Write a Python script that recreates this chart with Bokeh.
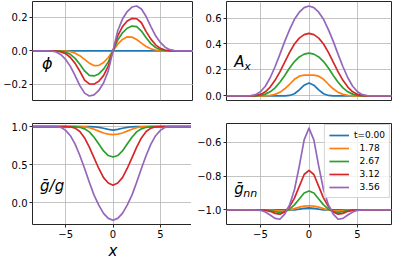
from bokeh.plotting import figure
from bokeh.layouts import gridplot
from bokeh.models import Range1d, FixedTicker, CustomJSTickFormatter, Label
from bokeh.embed import file_html
from bokeh.resources import INLINE

# ---------------- data ----------------
X = [-8.5, -7.0, -6.5, -6.0, -5.5, -5.0, -4.5, -4.0, -3.5, -3.0, -2.5, -2.0, -1.5, -1.0, -0.5,
     0.0, 0.5, 1.0, 1.5, 2.0, 2.5, 3.0, 3.5, 4.0, 4.5, 5.0, 5.5, 6.0, 6.5, 7.0, 8.5]

T_LABELS = ["t=0.00", "\u00a0\u00a01.78", "\u00a0\u00a02.67", "\u00a0\u00a03.12", "\u00a0\u00a03.56"]
COLORS = ["#1f77b4", "#ff7f0e", "#2ca02c", "#d62728", "#9467bd"]

PHI_BLUE = [0, 0, 0, 0, 0, 0, 0, 0, 0, 0, 0, 0, 0, 0, 0, 0, 0, 0, 0, 0, 0, 0, 0, 0, 0, 0, 0, 0, 0, 0, 0]
PHI_ORANGE = [0, 0, 0, 0, 0, -0.001, -0.005, -0.014, -0.029, -0.051, -0.074, -0.088, -0.087, -0.07, -0.04,
              0, 0.04, 0.068, 0.084, 0.082, 0.068, 0.046, 0.026, 0.012, 0.005, 0.001, 0, 0, 0, 0, 0]
PHI_GREEN = [0, 0, 0, 0, -0.002, -0.008, -0.021, -0.045, -0.08, -0.12, -0.147, -0.15, -0.138, -0.11, -0.066,
             0, 0.065, 0.108, 0.135, 0.148, 0.145, 0.118, 0.078, 0.043, 0.02, 0.007, 0.002, 0, 0, 0, 0]
PHI_RED = [0, 0, 0, -0.001, -0.006, -0.017, -0.04, -0.075, -0.122, -0.175, -0.198, -0.199, -0.182, -0.148, -0.092,
           0, 0.09, 0.145, 0.178, 0.194, 0.192, 0.168, 0.115, 0.07, 0.036, 0.015, 0.005, 0.001, 0, 0, 0]
PHI_PURPLE = [0, 0, -0.001, -0.007, -0.023, -0.052, -0.093, -0.148, -0.208, -0.253, -0.27, -0.263, -0.237, -0.192, -0.12,
              0, 0.12, 0.19, 0.235, 0.262, 0.268, 0.25, 0.205, 0.145, 0.09, 0.05, 0.022, 0.007, 0.001, 0, 0]

AX_BLUE = [0, 0, 0, 0, 0, 0, 0, 0, 0, 0, 0.001, 0.004, 0.017, 0.047, 0.083,
           0.1, 0.083, 0.047, 0.017, 0.004, 0.001, 0, 0, 0, 0, 0, 0, 0, 0, 0, 0]
AX_ORANGE = [0, 0, 0, 0, 0, 0, 0.001, 0.004, 0.012, 0.028, 0.055, 0.09, 0.128, 0.152, 0.16,
             0.16, 0.16, 0.152, 0.128, 0.09, 0.055, 0.028, 0.012, 0.004, 0.001, 0, 0, 0, 0, 0, 0]
AX_GREEN = [0, 0, 0, 0, 0.001, 0.005, 0.014, 0.032, 0.062, 0.105, 0.158, 0.215, 0.265, 0.3, 0.322,
            0.329, 0.322, 0.3, 0.265, 0.215, 0.158, 0.105, 0.062, 0.032, 0.014, 0.005, 0.001, 0, 0, 0, 0]
AX_RED = [0, 0, 0, 0, 0.003, 0.012, 0.032, 0.068, 0.12, 0.185, 0.26, 0.335, 0.4, 0.445, 0.472,
          0.482, 0.472, 0.445, 0.4, 0.335, 0.26, 0.185, 0.12, 0.068, 0.032, 0.012, 0.003, 0, 0, 0, 0]
AX_PURPLE = [0, 0, 0, 0.002, 0.01, 0.032, 0.075, 0.14, 0.225, 0.32, 0.42, 0.51, 0.59, 0.645, 0.68,
             0.692, 0.68, 0.645, 0.59, 0.51, 0.42, 0.32, 0.225, 0.14, 0.075, 0.032, 0.01, 0.002, 0, 0, 0]

GG_BLUE = [1, 1, 1, 1, 1, 1, 1, 1, 1, 1, 0.999, 0.997, 0.99, 0.978, 0.962,
           0.952, 0.962, 0.978, 0.99, 0.997, 0.999, 1, 1, 1, 1, 1, 1, 1, 1, 1, 1]
GG_ORANGE = [1, 1, 1, 1, 1, 1, 1, 1, 0.999, 0.995, 0.985, 0.965, 0.94, 0.915, 0.9,
             0.895, 0.9, 0.915, 0.94, 0.965, 0.985, 0.995, 0.999, 1, 1, 1, 1, 1, 1, 1, 1]
GG_GREEN = [1, 1, 1, 1, 1, 1, 1, 0.998, 0.99, 0.97, 0.93, 0.86, 0.77, 0.68, 0.62,
            0.6, 0.62, 0.68, 0.77, 0.86, 0.93, 0.97, 0.99, 0.998, 1, 1, 1, 1, 1, 1, 1]
GG_RED = [1, 1, 1, 1, 1, 1, 0.997, 0.98, 0.935, 0.85, 0.73, 0.59, 0.45, 0.33, 0.26,
          0.23, 0.26, 0.33, 0.45, 0.59, 0.73, 0.85, 0.935, 0.98, 0.997, 1, 1, 1, 1, 1, 1]
GG_PURPLE = [1, 1, 1, 1, 0.99, 0.95, 0.88, 0.77, 0.62, 0.45, 0.27, 0.1, -0.03, -0.14, -0.205,
             -0.23, -0.205, -0.14, -0.03, 0.1, 0.27, 0.45, 0.62, 0.77, 0.88, 0.95, 0.99, 1, 1, 1, 1]

GNN_BLUE = [-1, -1, -1, -1, -1, -1, -1, -1, -1, -1, -1, -1, -0.999, -0.995, -0.99,
            -0.988, -0.99, -0.995, -0.999, -1, -1, -1, -1, -1, -1, -1, -1, -1, -1, -1, -1]
GNN_ORANGE = [-1, -1, -1, -1, -1, -1, -1, -1.001, -1.004, -1.007, -1.006, -1.0, -0.992, -0.983, -0.977,
              -0.975, -0.977, -0.983, -0.992, -1.0, -1.006, -1.007, -1.004, -1.001, -1, -1, -1, -1, -1, -1, -1]
GNN_GREEN = [-1, -1, -1, -1, -1, -1, -1, -1.004, -1.01, -1.015, -1.01, -0.995, -0.97, -0.935, -0.9,
             -0.888, -0.9, -0.935, -0.97, -0.995, -1.01, -1.015, -1.01, -1.004, -1, -1, -1, -1, -1, -1, -1]
GNN_RED = [-1, -1, -1, -1, -1, -1, -1.002, -1.008, -1.02, -1.025, -1.012, -0.98, -0.93, -0.86, -0.79,
           -0.766, -0.79, -0.86, -0.93, -0.98, -1.012, -1.025, -1.02, -1.008, -1.002, -1, -1, -1, -1, -1, -1]
GNN_PURPLE = [-1, -1, -1, -1, -1, -1.002, -1.012, -1.03, -1.05, -1.055, -1.025, -0.97, -0.88, -0.74, -0.585,
              -0.515, -0.585, -0.74, -0.88, -0.97, -1.025, -1.055, -1.05, -1.03, -1.012, -1.002, -1, -1, -1, -1, -1]

PHI = [PHI_BLUE, PHI_ORANGE, PHI_GREEN, PHI_RED, PHI_PURPLE]
AX = [AX_BLUE, AX_ORANGE, AX_GREEN, AX_RED, AX_PURPLE]
GG = [GG_BLUE, GG_ORANGE, GG_GREEN, GG_RED, GG_PURPLE]
GNN = [GNN_BLUE, GNN_ORANGE, GNN_GREEN, GNN_RED, GNN_PURPLE]

X_TICKS = [-5, 0, 5]
PHI_TICKS = [-0.2, 0.0, 0.2]
AX_TICKS = [0.0, 0.2, 0.4, 0.6]
GG_TICKS = [0.0, 0.5, 1.0]
GNN_TICKS = [-1.0, -0.8, -0.6]

# ---------------- styling ----------------
FONT = "DejaVu Sans"
X_RANGE = (-8.5, 8.5)


def fmt(decimals):
    return CustomJSTickFormatter(
        code="return tick.toFixed(%d).replace('-', '\u2212');" % decimals)


def panel(series, ylim, yticks, fw, fh, bl, br, bt, bb, show_x, legend=False):
    p = figure(frame_width=fw, frame_height=fh,
               x_range=Range1d(*X_RANGE), y_range=Range1d(*ylim),
               output_backend="svg", toolbar_location=None,
               min_border_left=bl, min_border_right=br,
               min_border_top=bt, min_border_bottom=bb,
               background_fill_color="white", border_fill_color="white")
    p.outline_line_color = "#262626"
    p.outline_line_width = 1

    for ax in (p.xaxis, p.yaxis):
        ax.axis_line_color = None
        ax.major_tick_line_color = "#262626"
        ax.major_tick_out = 3
        ax.major_tick_in = 0
        ax.minor_tick_line_color = None
        ax.major_label_text_font = FONT
        ax.major_label_text_font_size = "10px"
        ax.major_label_text_color = "black"
        ax.major_label_standoff = 2

    p.yaxis.ticker = FixedTicker(ticks=yticks)
    p.yaxis.formatter = fmt(1)
    p.xaxis.ticker = FixedTicker(ticks=X_TICKS)
    p.xaxis.formatter = fmt(0)
    p.xgrid.ticker = FixedTicker(ticks=X_TICKS)
    p.ygrid.ticker = FixedTicker(ticks=yticks)
    p.grid.grid_line_color = "#b0b0b0"
    p.grid.grid_line_alpha = 0.75
    p.grid.grid_line_width = 1
    if not show_x:
        p.xaxis.visible = False

    for ys, c, lab in zip(series, COLORS, T_LABELS):
        if legend:
            p.line(X, ys, line_color=c, line_width=1.7, line_join="round", legend_label=lab)
        else:
            p.line(X, ys, line_color=c, line_width=1.7, line_join="round")
    return p


W1, W2 = 161, 165
H1, H2 = 99, 101

p_phi = panel(PHI, (-0.297, 0.295), PHI_TICKS, W1, H1, 30, 0, 1, 12, False)
p_ax = panel(AX, (-0.035, 0.727), AX_TICKS, W2, H1, 33, 1, 1, 12, False)
p_gg = panel(GG, (-0.285, 1.04), GG_TICKS, W1, H2, 30, 0, 11, 38, True)
p_gnn = panel(GNN, (-1.086, -0.488), GNN_TICKS, W2, H2, 33, 1, 11, 38, True, legend=True)

p_gg.xaxis.axis_label = "x"
p_gg.xaxis.axis_label_text_font = FONT
p_gg.xaxis.axis_label_text_font_style = "italic"
p_gg.xaxis.axis_label_text_font_size = "15px"
p_gg.xaxis.axis_label_standoff = 1
p_gg.xaxis.axis_label_text_color = "black"

lg = p_gnn.legend[0]
lg.location = "top_right"
lg.margin = 1
lg.padding = 4
lg.spacing = 1
lg.label_height = 12
lg.glyph_height = 12
lg.glyph_width = 20
lg.label_standoff = 5
lg.label_text_font = FONT
lg.label_text_font_size = "9px"
lg.label_text_color = "black"
lg.background_fill_alpha = 0.8
lg.border_line_color = "#cccccc"
lg.border_line_alpha = 0.8


def add_label(p, x, y, text, size, dx=0, dy=0):
    p.add_layout(Label(x=x, y=y, text=text, x_offset=dx, y_offset=dy,
                       text_font=FONT, text_font_style="italic",
                       text_font_size=size, text_baseline="middle",
                       text_align="left", text_color="black"))


add_label(p_phi, -7.5, -0.075, "\u03d5", "16px")
add_label(p_ax, -7.7, 0.26, "A", "15px")
add_label(p_ax, -7.7, 0.26, "x", "11px", dx=10, dy=-4)
add_label(p_gg, -7.7, 0.22, "\u1e21/g", "15px")
add_label(p_gnn, -7.7, -0.876, "\u1e21", "15px")
add_label(p_gnn, -7.7, -0.876, "nn", "11px", dx=9, dy=-4)

grid = gridplot([[p_phi, p_ax], [p_gg, p_gnn]], toolbar_location=None)

with open("out.html", "w") as f:
    f.write(file_html(grid, INLINE))
